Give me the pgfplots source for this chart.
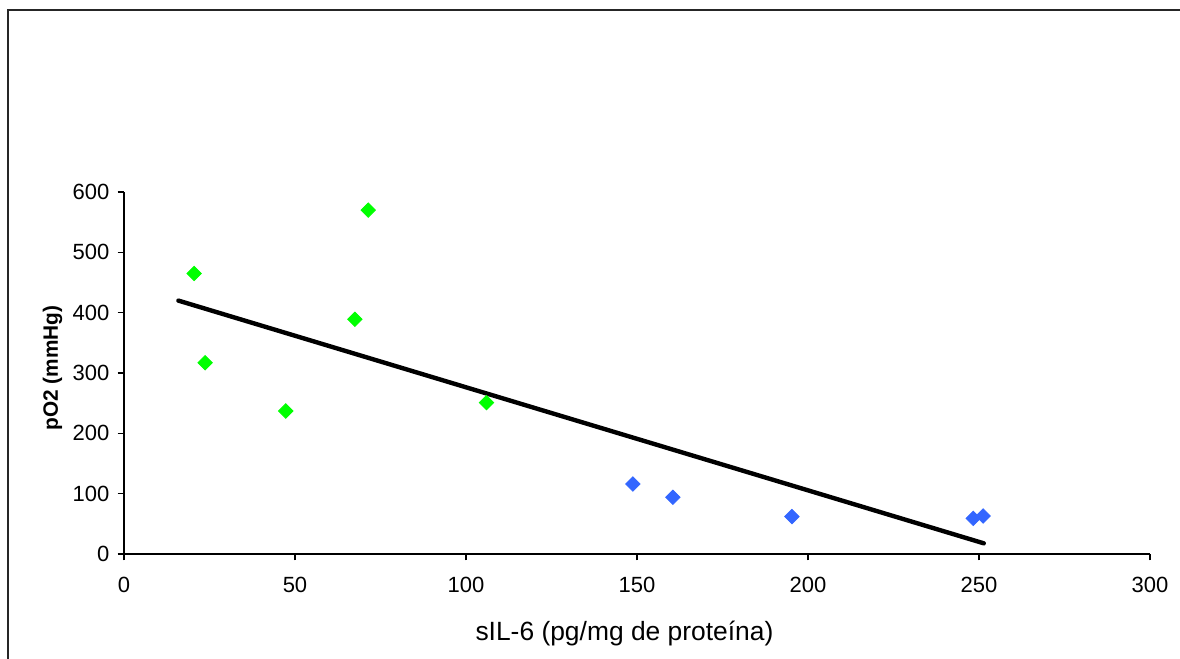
\documentclass[border=0pt]{standalone}
\usepackage{pgfplots}
\pgfplotsset{compat=1.18}
\usepackage{fontspec}
\setmainfont{Liberation Sans}
\definecolor{ptgreen}{RGB}{0,255,0}
\definecolor{ptblue}{RGB}{51,102,255}
\begin{document}
\begin{tikzpicture}
\useasboundingbox (-62pt,-52.5pt) rectangle (528pt,277pt);
\draw[black!85, line width=0.9pt] (-58pt,-52.5pt) -- (-58pt,272pt) -- (528pt,272pt);
\begin{axis}[
  at={(0,0)}, anchor=origin,
  width=513pt, height=181pt, scale only axis,
  xmin=0, xmax=300, ymin=0, ymax=600,
  axis lines*=left,
  axis line style={black, line width=0.6pt},
  tick align=outside,
  major tick length=3.2pt,
  tick style={black, line width=0.6pt},
  xtick={0,50,...,300}, ytick={0,100,...,600},
  /pgf/number format/assume math mode=true,
  ticklabel style={font=\fontsize{11}{12}\selectfont},
  xticklabel style={yshift=-4.8pt},
  yticklabel style={xshift=-0.6pt},
  xlabel={sIL-6 (pg/mg de proteína)},
  xlabel style={at={(rel axis cs:0.4878,0)}, anchor=base, yshift=-43.4pt, font=\fontsize{13.2}{15}\selectfont},
  ylabel={pO2 (mmHg)},
  ylabel style={at={(rel axis cs:-0.0697,0.514)}, anchor=center, font=\fontsize{10.4}{12}\selectfont\bfseries},
  clip=false,
]
\addplot[only marks, mark=square*, mark size=2.55pt, color=ptgreen, mark options={draw=ptgreen, fill=ptgreen, rotate=45}] coordinates {
(20.5,465) (23.7,317) (47.3,237) (67.5,389) (71.4,570) (106.0,251)
};
\addplot[only marks, mark=square*, mark size=2.55pt, color=ptblue, mark options={draw=ptblue, fill=ptblue, rotate=45}] coordinates {
(148.8,116) (160.5,94) (195.3,62) (248.3,59) (251.2,63)
};
\addplot[black, line width=2.2pt, line cap=round] coordinates {(15.9,420) (251.4,17.7)};
\end{axis}
\end{tikzpicture}
\end{document}
